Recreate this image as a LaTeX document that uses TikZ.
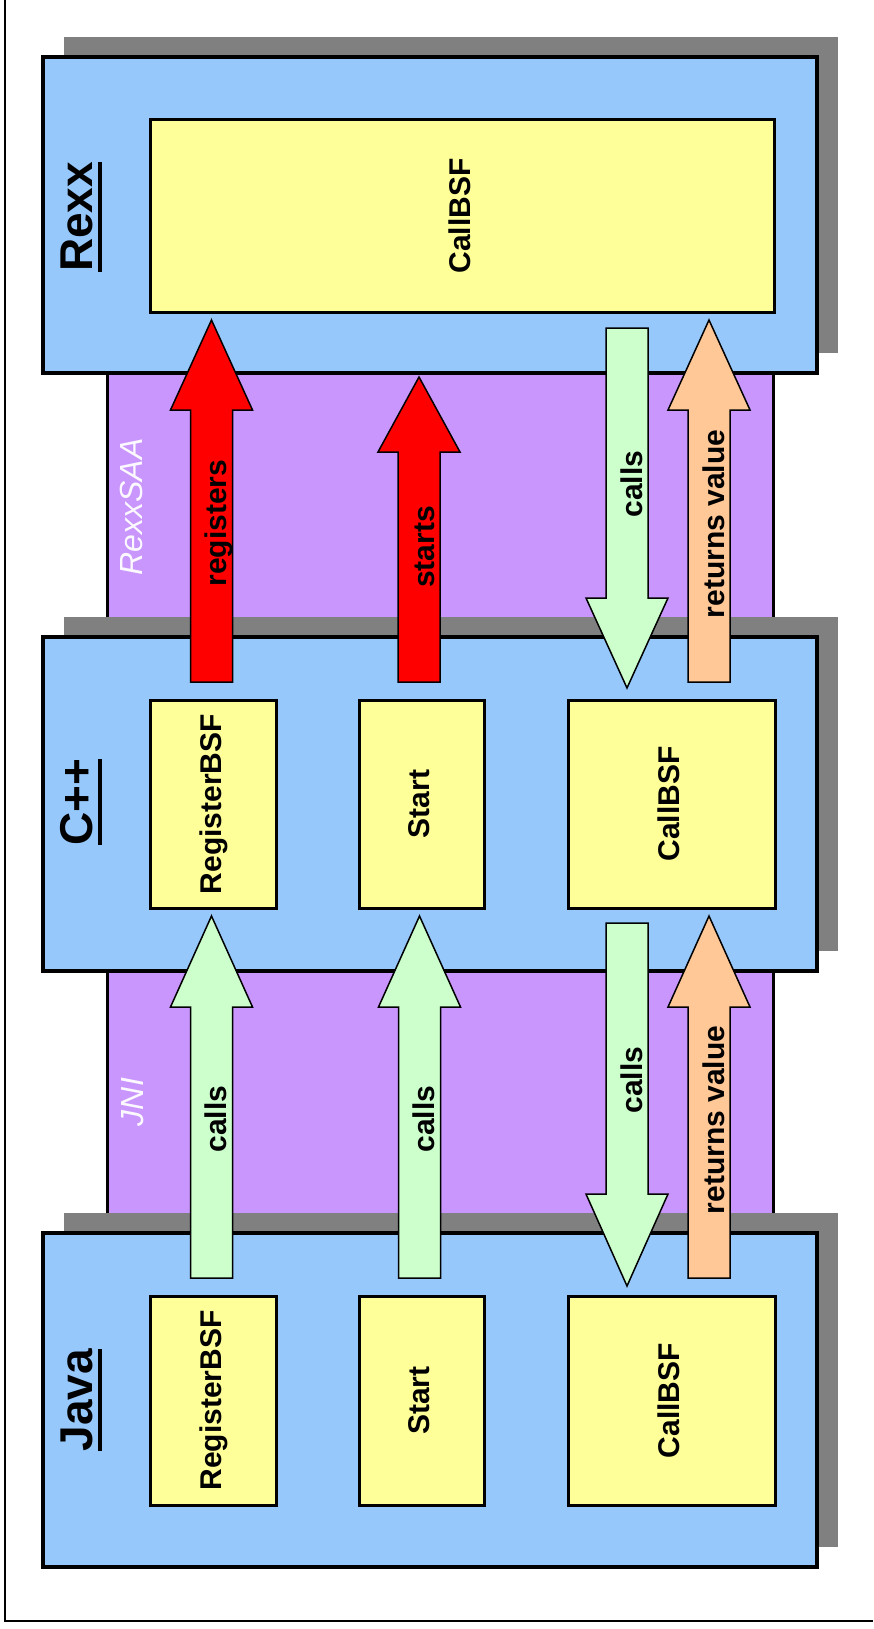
\documentclass[tikz,border=0pt]{standalone}
\usepackage{fontspec}
\setmainfont{Liberation Sans}
\usetikzlibrary{calc,shadows}
\definecolor{layerblue}{RGB}{150,200,252}
\definecolor{funcyellow}{RGB}{255,255,153}
\definecolor{bandpurple}{RGB}{200,150,252}
\definecolor{shadowgray}{RGB}{128,128,128}
\definecolor{callgreen}{RGB}{204,255,204}
\definecolor{retorange}{RGB}{255,200,150}
\definecolor{regred}{RGB}{255,0,0}
\definecolor{bandtext}{RGB}{252,248,255}
\newcommand\myul[1]{\setbox0=\hbox{#1}\rlap{\raisebox{-10pt}{\rule{\wd0}{4pt}}}\box0}
\newcommand\blockarrow[4]{%
  \draw[arrowline, fill=#3] ($(#1)+(-21,0)$) -- ($(#1)+(21,0)$) -- ($(#2)+(21,#4)$) -- ($(#2)+(41,#4)$) -- (#2) -- ($(#2)+(-41,#4)$) -- ($(#2)+(-21,#4)$) -- cycle;}
\begin{document}
\begin{tikzpicture}[x=1pt,y=-1pt,
  layer/.style={draw=black, line width=3.5pt, fill=layerblue, rectangle, inner sep=0pt,
    drop shadow={shadow xshift=20.5pt, shadow yshift=20pt, fill=shadowgray, opacity=1, draw=none}},
  band/.style={draw=black, line width=3pt, fill=bandpurple, rectangle, inner sep=0pt},
  func/.style={draw=black, line width=3pt, fill=funcyellow, rectangle, rotate=90, inner sep=0pt,
    font=\fontsize{30}{36}\selectfont\bfseries, text height=22pt, text depth=6pt},
  arrowline/.style={draw=black, line width=1.5pt, line join=miter},
  arrowlabel/.style={rotate=90, anchor=base, inner sep=0pt, font=\fontsize{30}{36}\selectfont\bfseries},
  layerlabel/.style={rotate=90, anchor=base, inner sep=0pt, font=\fontsize{46}{54}\selectfont\bfseries},
  bandlabel/.style={rotate=90, anchor=base, inner sep=0pt, text=bandtext, font=\fontsize{32}{38}\selectfont\itshape},
  frameline/.style={draw=black, line width=2pt}
]
\useasboundingbox (0,0) rectangle (873,1629);
% frame
\coordinate (ftop) at (5,0);
\coordinate (fcorner) at (5,1621);
\coordinate (fright) at (873,1621);
\draw[frameline] (ftop) -- (fcorner) -- (fright);

% bands
\node[band, minimum width=666pt, minimum height=270pt] (saa) at (440,495) {};
\node[band, minimum width=666pt, minimum height=265pt] (jni) at (440,1092) {};

% layer boxes
\node[layer, minimum width=774pt, minimum height=316pt] (rexx) at (430,215) {};
\node[layer, minimum width=774pt, minimum height=334pt] (cpp) at (430,804) {};
\node[layer, minimum width=774pt, minimum height=334pt] (java) at (430,1400) {};

% function boxes
\node[func, minimum width=192pt, minimum height=624pt] (rexxcall) at (462,216) {CallBSF};
\node[func, minimum width=208pt, minimum height=126pt] (cppreg) at (213,804) {RegisterBSF};
\node[func, minimum width=208pt, minimum height=125pt] (cppstart) at (421.5,804) {Start};
\node[func, minimum width=208pt, minimum height=207pt] (cppcall) at (671.5,804) {CallBSF};
\node[func, minimum width=209pt, minimum height=126pt] (javareg) at (213,1400.5) {RegisterBSF};
\node[func, minimum width=209pt, minimum height=125pt] (javastart) at (421.5,1400.5) {Start};
\node[func, minimum width=209pt, minimum height=207pt] (javacall) at (671.5,1400.5) {CallBSF};

% arrow end points
\coordinate (a1s) at (211.5,682);  \coordinate (a1e) at (211.5,320);
\coordinate (a2s) at (419,682);    \coordinate (a2e) at (419,377);
\coordinate (a3s) at (627,328);    \coordinate (a3e) at (627,688);
\coordinate (a4s) at (709,682);    \coordinate (a4e) at (709,320);
\coordinate (b1s) at (211.5,1278); \coordinate (b1e) at (211.5,916);
\coordinate (b2s) at (419.5,1278); \coordinate (b2e) at (419.5,916);
\coordinate (b3s) at (627,923);    \coordinate (b3e) at (627,1286);
\coordinate (b4s) at (709,1278);   \coordinate (b4e) at (709,916);

\blockarrow{a1s}{a1e}{regred}{90}
\blockarrow{a2s}{a2e}{regred}{75}
\blockarrow{a3s}{a3e}{callgreen}{-90}
\blockarrow{a4s}{a4e}{retorange}{90}
\blockarrow{b1s}{b1e}{callgreen}{91}
\blockarrow{b2s}{b2e}{callgreen}{91}
\blockarrow{b3s}{b3e}{callgreen}{-92}
\blockarrow{b4s}{b4e}{retorange}{91}

% arrow labels
\node[arrowlabel] (t1) at (226.5,523) {registers};
\node[arrowlabel] (t2) at (434,547) {starts};
\node[arrowlabel] (t3) at (642,484) {calls};
\node[arrowlabel] (t4) at (724,524) {returns value};
\node[arrowlabel] (u1) at (226.5,1119) {calls};
\node[arrowlabel] (u2) at (434.5,1119) {calls};
\node[arrowlabel] (u3) at (642,1080) {calls};
\node[arrowlabel] (u4) at (724,1120) {returns value};

% layer labels
\node[layerlabel] (lrexx) at (92,217) {\myul{Rexx}};
\node[layerlabel] (lcpp) at (92,802) {\myul{C++}};
\node[layerlabel] (ljava) at (92,1400) {\myul{Java}};

% band labels
\node[bandlabel] (lsaa) at (142,507) {RexxSAA};
\node[bandlabel] (ljni) at (143,1102) {JNI};
\end{tikzpicture}
\end{document}
